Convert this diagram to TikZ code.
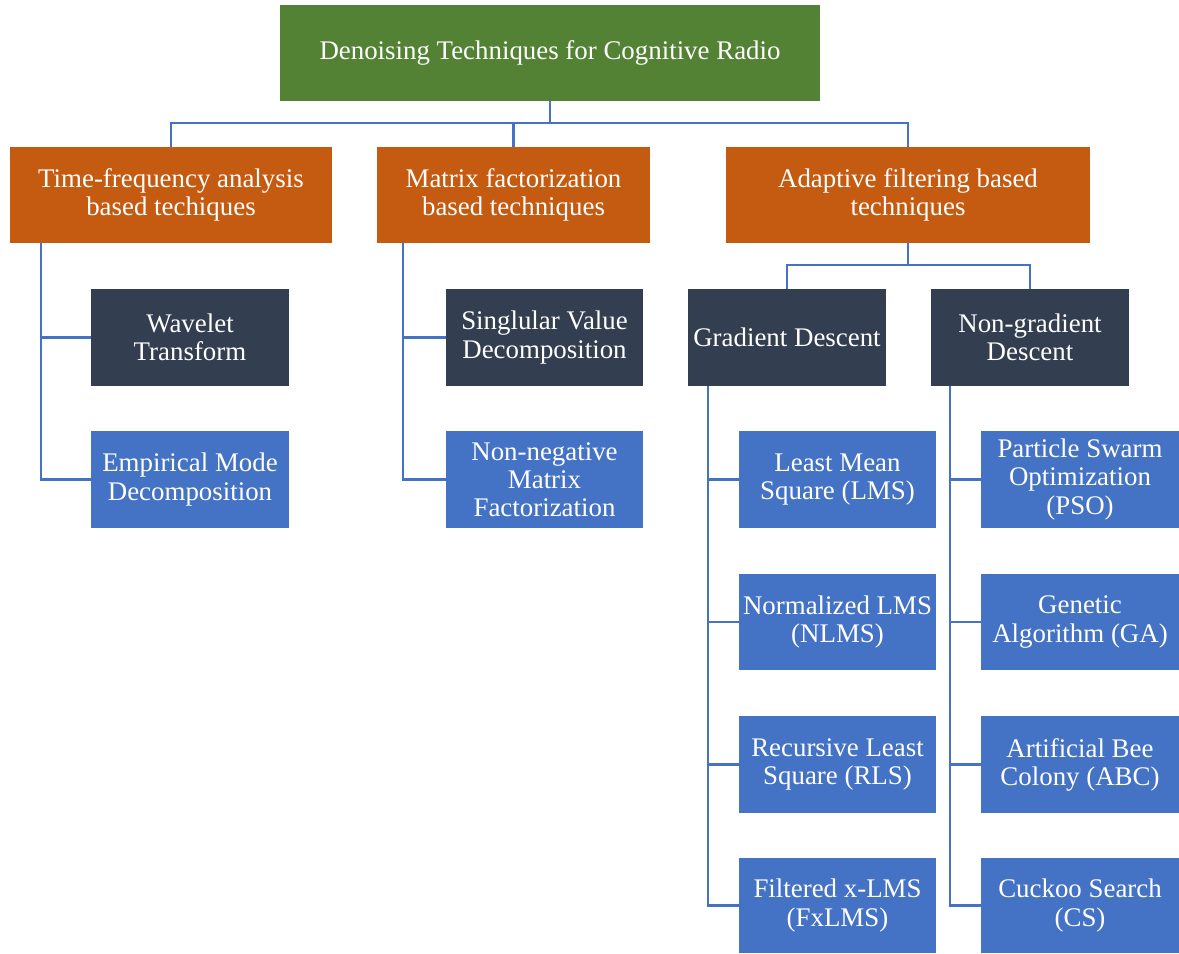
\documentclass[tikz,border=0pt]{standalone}
\usepackage{fontspec}
\setmainfont{Liberation Serif}
\definecolor{rootgreen}{HTML}{548235}
\definecolor{catorange}{HTML}{C55A11}
\definecolor{darkslate}{HTML}{333F50}
\definecolor{leafblue}{HTML}{4472C4}
\begin{document}
\begin{tikzpicture}[x=0.02cm,y=-0.02cm,
  box/.style={draw=none,text=white,align=center,inner sep=0pt,outer sep=0pt,
    font=\fontsize{15.3}{16}\selectfont},
  sz/.style 2 args={minimum width=#1*0.02cm,minimum height=#2*0.02cm},
  rootbox/.style={box,fill=rootgreen},
  catbox/.style={box,fill=catorange},
  subbox/.style={box,fill=darkslate},
  leafbox/.style={box,fill=leafblue},
  link/.style={draw=leafblue,line width=1.5pt}]
\useasboundingbox (0,0) rectangle (1179,953);

% root and categories
\node[rootbox,sz={540}{96}] (root) at (550,53) {Denoising Techniques for Cognitive Radio};
\node[catbox,sz={322}{96}] (tf) at (171,195) {Time-frequency analysis\\based techiques};
\node[catbox,sz={273}{96}] (mf) at (513.5,195) {Matrix factorization\\based techniques};
\node[catbox,sz={364}{96}] (af) at (908,195) {Adaptive filtering based\\techniques};

% time-frequency branch
\node[subbox,sz={198}{97}] (wt) at (190,337.5) {Wavelet\\Transform};
\node[leafbox,sz={198}{97}] (emd) at (190,479.5) {Empirical Mode\\Decomposition};

% matrix factorization branch
\node[subbox,sz={197}{97}] (svd) at (544.5,337.5) {Singlular Value\\Decomposition};
\node[leafbox,sz={197}{97}] (nmf) at (544.5,479.5) {Non-negative\\Matrix\\Factorization};

% adaptive filtering branch
\node[subbox,sz={198}{97}] (gd) at (787,337.5) {Gradient Descent};
\node[subbox,sz={198}{97}] (ngd) at (1030,337.5) {Non-gradient\\Descent};

\node[leafbox,sz={197}{97}] (lms) at (837.5,479.5) {Least Mean\\Square (LMS)};
\node[leafbox,sz={197}{96}] (nlms) at (837.5,622) {Normalized LMS\\(NLMS)};
\node[leafbox,sz={197}{97}] (rls) at (837.5,764.5) {Recursive Least\\Square (RLS)};
\node[leafbox,sz={197}{95}] (fx) at (837.5,905.5) {Filtered x-LMS\\(FxLMS)};

\node[leafbox,sz={198}{97}] (pso) at (1080,479.5) {Particle Swarm\\Optimization\\(PSO)};
\node[leafbox,sz={198}{96}] (ga) at (1080,622) {Genetic\\Algorithm (GA)};
\node[leafbox,sz={198}{97}] (abc) at (1080,764.5) {Artificial Bee\\Colony (ABC)};
\node[leafbox,sz={198}{95}] (cs) at (1080,905.5) {Cuckoo Search\\(CS)};

% connectors: root to categories
\coordinate (j1) at (550,123);
\draw[link] (root.south) -- (j1);
\draw[link] (tf.north) |- (j1);
\draw[link] (af.north) |- (j1);
\draw[link] (mf.north) -- (mf.north |- j1);

% connectors: adaptive filtering to descent families
\coordinate (j2) at (908,265);
\draw[link] (af.south) -- (j2);
\draw[link] (gd.north) |- (j2);
\draw[link] (ngd.north) |- (j2);

% spines with side branches
\coordinate (s1) at (41,243);
\draw[link] (s1) |- (emd.west);
\draw[link] (s1 |- wt.west) -- (wt.west);

\coordinate (s2) at (403,243);
\draw[link] (s2) |- (nmf.west);
\draw[link] (s2 |- svd.west) -- (svd.west);

\coordinate (s3) at (708,386);
\draw[link] (s3) |- (fx.west);
\foreach \n in {lms,nlms,rls} \draw[link] (s3 |- \n.west) -- (\n.west);

\coordinate (s4) at (950,386);
\draw[link] (s4) |- (cs.west);
\foreach \n in {pso,ga,abc} \draw[link] (s4 |- \n.west) -- (\n.west);
\end{tikzpicture}
\end{document}
